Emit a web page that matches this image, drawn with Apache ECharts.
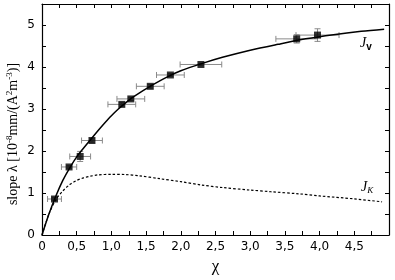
<!DOCTYPE html>
<html><head><meta charset="utf-8">
<script src="https://cdn.jsdelivr.net/npm/echarts@6/dist/echarts.min.js"></script>
<style>html,body{margin:0;padding:0;background:#fff}#c{width:395px;height:280px}</style>
</head><body><div id="c"></div>
<script>
// Measured points (chi, lambda, x-error, y-error)
const ptX = [0.18, 0.39, 0.55, 0.72, 1.15, 1.28, 1.56, 1.85, 2.29, 3.67, 3.97];
const ptY = [0.857, 1.62, 1.87, 2.25, 3.11, 3.24, 3.54, 3.81, 4.06, 4.67, 4.76];
const ptXErr = [0.1, 0.11, 0.15, 0.15, 0.2, 0.2, 0.2, 0.2, 0.3, 0.3, 0.31];
const ptYErr = [0.03, 0.03, 0.12, 0.04, 0.04, 0.04, 0.04, 0.03, 0.03, 0.1, 0.15];
// J_v curve (solid)
const jvX = [0, 0.1, 0.2, 0.3, 0.4, 0.5, 0.6, 0.7, 0.8, 0.9, 1.0, 1.1, 1.2, 1.3, 1.4, 1.6, 1.8, 2.0, 2.3, 2.6, 3.0, 3.4, 3.8, 4.2, 4.6, 4.93];
const jvY = [0, 0.5, 0.93, 1.3, 1.6, 1.86, 2.07, 2.27, 2.47, 2.66, 2.84, 3.0, 3.14, 3.27, 3.38, 3.58, 3.76, 3.91, 4.08, 4.23, 4.4, 4.54, 4.67, 4.77, 4.85, 4.9];
// J_K curve (dashed)
const jkX = [0, 0.1, 0.2, 0.3, 0.4, 0.5, 0.6, 0.7, 0.8, 1.0, 1.2, 1.4, 1.7, 2.0, 2.3, 2.6, 3.0, 3.3, 3.7, 4.0, 4.5, 4.9];
const jkY = [0, 0.5, 0.84, 1.05, 1.2, 1.3, 1.36, 1.4, 1.43, 1.445, 1.44, 1.41, 1.34, 1.27, 1.19, 1.13, 1.07, 1.03, 0.98, 0.93, 0.86, 0.79];
const xTickLabels = ['0', '0,5', '1,0', '1,5', '2,0', '2,5', '3,0', '3,5', '4,0', '4,5'];
const yTickLabels = ['0', '1', '2', '3', '4', '5'];

const chart = echarts.init(document.getElementById('c'), null, {renderer: 'canvas'});
const tickStyle = {show: true, inside: true, length: 4, lineStyle: {color: '#000', width: 1}};
const lineStyle = {show: true, onZero: false, lineStyle: {color: '#000', width: 1.2}};
function xFmt(v) {
  const i = Math.round(v * 2);
  if (Math.abs(v * 2 - i) > 1e-6) return '';
  return xTickLabels[i] !== undefined ? xTickLabels[i] : '';
}
function yFmt(v) {
  if (Math.abs(v - Math.round(v)) > 1e-6) return '';
  const s = yTickLabels[Math.round(v)];
  return s !== undefined ? s : '';
}
const errData = ptX.map((x, i) => [x, ptY[i], ptXErr[i], ptYErr[i]]);

chart.setOption({
  animation: false,
  grid: {left: 42, right: 6, top: 4, bottom: 45},
  xAxis: [
    {type: 'value', min: 0, max: 5, interval: 0.25, position: 'bottom',
     axisLine: lineStyle, axisTick: tickStyle, splitLine: {show: false},
     axisLabel: {formatter: xFmt, color: '#000', fontFamily: 'DejaVu Sans', fontSize: 12, margin: 6, hideOverlap: false},
     name: 'χ', nameLocation: 'middle', nameGap: 17,
     nameTextStyle: {fontFamily: 'Liberation Serif', fontSize: 17, color: '#000'}},
    {type: 'value', min: 0, max: 5, interval: 0.25, position: 'top',
     axisLine: lineStyle, axisTick: tickStyle, splitLine: {show: false}, axisLabel: {show: false}}
  ],
  yAxis: [
    {type: 'value', min: 0, max: 5.5, interval: 0.5, position: 'left',
     axisLine: lineStyle, axisTick: tickStyle, splitLine: {show: false},
     axisLabel: {formatter: yFmt, color: '#000', fontFamily: 'DejaVu Sans', fontSize: 12, margin: 7}},
    {type: 'value', min: 0, max: 5.5, interval: 0.5, position: 'right',
     axisLine: lineStyle, axisTick: tickStyle, splitLine: {show: false}, axisLabel: {show: false}}
  ],
  series: [
    {type: 'line', name: 'Jv', data: jvX.map((x, i) => [x, jvY[i]]), smooth: 0.3, showSymbol: false,
     lineStyle: {color: '#000', width: 1.5}, z: 3},
    {type: 'line', name: 'JK', data: jkX.map((x, i) => [x, jkY[i]]), smooth: 0.3, showSymbol: false,
     lineStyle: {color: '#000', width: 1.2, type: [2.5, 2]}, z: 3},
    {type: 'custom', name: 'err', data: errData, z: 2,
     renderItem: function (params, api) {
       const x = api.value(0), y = api.value(1), ex = api.value(2), ey = api.value(3);
       const l = api.coord([x - ex, y]), r = api.coord([x + ex, y]);
       const t = api.coord([x, y + ey]), b = api.coord([x, y - ey]);
       const c = 3;
       const st = {stroke: '#8a8a8a', lineWidth: 1, fill: null};
       return {type: 'group', children: [
         {type: 'line', shape: {x1: l[0], y1: l[1], x2: r[0], y2: r[1]}, style: st},
         {type: 'line', shape: {x1: l[0], y1: l[1] - c, x2: l[0], y2: l[1] + c}, style: st},
         {type: 'line', shape: {x1: r[0], y1: r[1] - c, x2: r[0], y2: r[1] + c}, style: st},
         {type: 'line', shape: {x1: t[0], y1: t[1], x2: b[0], y2: b[1]}, style: st},
         {type: 'line', shape: {x1: t[0] - c, y1: t[1], x2: t[0] + c, y2: t[1]}, style: st},
         {type: 'line', shape: {x1: b[0] - c, y1: b[1], x2: b[0] + c, y2: b[1]}, style: st}
       ]};
     }},
    {type: 'scatter', name: 'pts', data: ptX.map((x, i) => [x, ptY[i]]), symbol: 'rect', symbolSize: 7,
     itemStyle: {color: '#000'}, z: 4}
  ],
  graphic: [
    {type: 'text', x: 13, y: 134, rotation: Math.PI / 2,
     style: {text: 'slope λ [10{sup|-8}mm/(A{sup|2}m{sup|-3})]', align: 'center', verticalAlign: 'middle',
       fontFamily: 'Liberation Serif', fontSize: 14, fill: '#000',
       rich: {sup: {fontSize: 9, fontFamily: 'Liberation Serif', padding: [0, 0, 7, 0]}}}},
    {type: 'text', x: 360, y: 35,
     style: {text: '{j|J}{s|v}', rich: {j: {fontFamily: 'Liberation Serif', fontStyle: 'italic', fontSize: 14, fill: '#000'},
       s: {fontFamily: 'Liberation Sans', fontWeight: 'bold', fontSize: 10, fill: '#000', padding: [7, 0, 0, 0]}}}},
    {type: 'text', x: 361, y: 179,
     style: {text: '{j|J}{s|K}', rich: {j: {fontFamily: 'Liberation Serif', fontStyle: 'italic', fontSize: 14, fill: '#000'},
       s: {fontFamily: 'Liberation Serif', fontStyle: 'italic', fontSize: 9, fill: '#000', padding: [7, 0, 0, 0]}}}}
  ]
});
</script></body></html>
